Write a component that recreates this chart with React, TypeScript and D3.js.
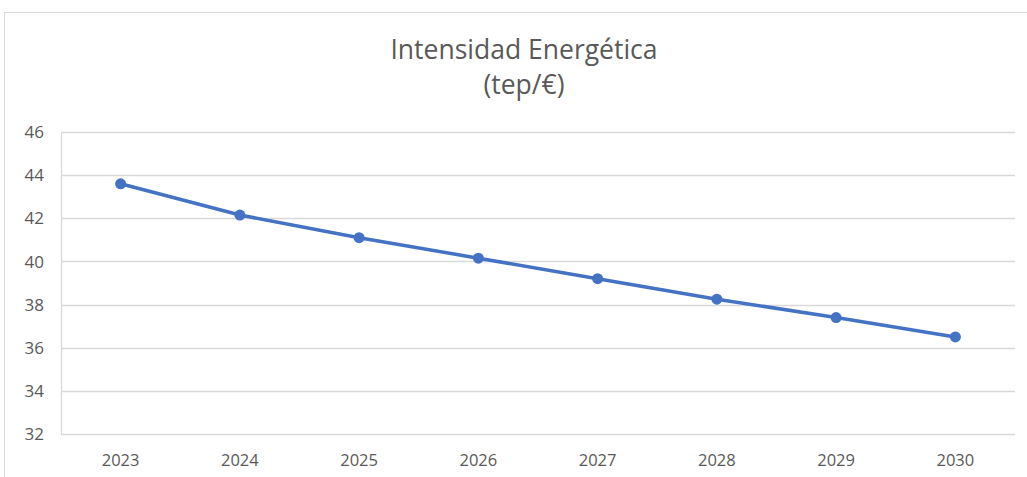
import * as d3 from "d3";
import React, { useEffect, useRef } from "react";

// Datos del gráfico
const years = ["2023", "2024", "2025", "2026", "2027", "2028", "2029", "2030"];
const intensity = [43.6, 42.15, 41.1, 40.15, 39.2, 38.25, 37.4, 36.5];
const yTicks = [32, 34, 36, 38, 40, 42, 44, 46];
const titleLines = ["Intensidad Energética", "(tep/€)"];

const App = () => {
  const svgRef = useRef<SVGSVGElement>(null);

  useEffect(() => {
    const width = 1027;
    const height = 477;
    const margin = { left: 61, right: 12, top: 132, bottom: 43 };
    const font = "'Open Sans', sans-serif";
    const textColor = "#595959";

    const svg = d3.select(svgRef.current).attr("width", width).attr("height", height);
    svg.selectAll("*").remove();

    // Marco exterior del gráfico
    svg
      .append("rect")
      .attr("x", 4.5)
      .attr("y", 12.5)
      .attr("width", width + 10)
      .attr("height", height + 10)
      .attr("fill", "white")
      .attr("stroke", "#d9d9d9");

    const x = d3
      .scaleBand()
      .domain(years)
      .range([margin.left, width - margin.right]);

    const y = d3
      .scaleLinear()
      .domain([32, 46])
      .range([height - margin.bottom, margin.top]);

    // Líneas de cuadrícula
    svg
      .append("g")
      .selectAll("line")
      .data(yTicks)
      .join("line")
      .attr("x1", margin.left)
      .attr("x2", width - margin.right)
      .attr("y1", (d) => Math.round(y(d)) + 0.5)
      .attr("y2", (d) => Math.round(y(d)) + 0.5)
      .attr("stroke", "#d9d9d9")
      .attr("stroke-width", 1.3);

    // Línea vertical del eje
    svg
      .append("line")
      .attr("x1", margin.left + 0.5)
      .attr("x2", margin.left + 0.5)
      .attr("y1", Math.round(y(46)) + 0.5)
      .attr("y2", Math.round(y(32)) + 0.5)
      .attr("stroke", "#d9d9d9")
      .attr("stroke-width", 1.3);

    // Eje y
    svg
      .append("g")
      .selectAll("text")
      .data(yTicks)
      .join("text")
      .attr("x", 44)
      .attr("y", (d) => y(d))
      .attr("dy", "0.36em")
      .attr("text-anchor", "end")
      .attr("font-family", font)
      .attr("font-size", 17)
      .attr("fill", textColor)
      .text((d) => d);

    // Eje x
    svg
      .append("g")
      .selectAll("text")
      .data(years)
      .join("text")
      .attr("x", (d) => x(d)! + x.bandwidth() / 2)
      .attr("y", 466)
      .attr("text-anchor", "middle")
      .attr("font-family", font)
      .attr("font-size", 16.5)
      .attr("fill", textColor)
      .text((d) => d);

    // Título
    svg
      .append("g")
      .selectAll("text")
      .data(titleLines)
      .join("text")
      .attr("x", 524)
      .attr("y", (d, i) => 59 + i * 35)
      .attr("text-anchor", "middle")
      .attr("font-family", font)
      .attr("font-size", 26.5)
      .attr("fill", textColor)
      .text((d) => d);

    const line = d3
      .line<number>()
      .x((d, i) => x(years[i])! + x.bandwidth() / 2)
      .y((d) => y(d));

    svg
      .append("path")
      .datum(intensity)
      .attr("fill", "none")
      .attr("stroke", "#4472c4")
      .attr("stroke-width", 3.5)
      .attr("stroke-linejoin", "round")
      .attr("d", line);

    svg
      .append("g")
      .selectAll("circle")
      .data(intensity)
      .join("circle")
      .attr("cx", (d, i) => x(years[i])! + x.bandwidth() / 2)
      .attr("cy", (d) => y(d))
      .attr("r", 5.5)
      .attr("fill", "#4472c4");
  }, []);

  return (
    <div style={{ position: "fixed", left: 0, top: 0 }}>
      <svg ref={svgRef}></svg>
    </div>
  );
};

export default App;
